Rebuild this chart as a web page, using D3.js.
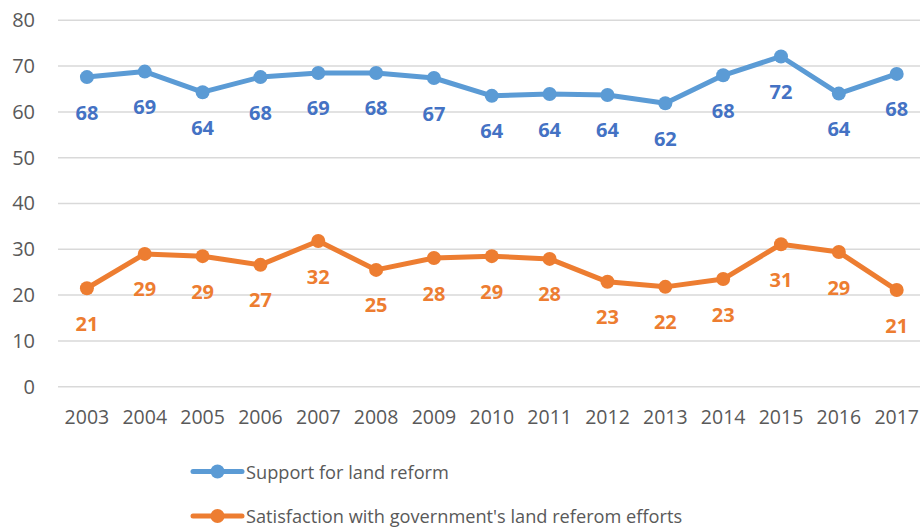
<!DOCTYPE html>
<html><head><meta charset="utf-8">
<script src="https://cdn.jsdelivr.net/npm/d3@7"></script>
<style>body{margin:0;background:#fff}svg{display:block}</style>
</head><body><svg id="c" width="920" height="528"></svg>
<script>
const years = ["2003","2004","2005","2006","2007","2008","2009","2010","2011","2012","2013","2014","2015","2016","2017"];
const support = [67.6,68.8,64.3,67.6,68.5,68.5,67.4,63.5,63.9,63.7,61.9,68.0,72.1,64.0,68.3];
const supportLabels = [68,69,64,68,69,68,67,64,64,64,62,68,72,64,68];
const satisfaction = [21.5,29.0,28.5,26.6,31.8,25.5,28.1,28.5,27.9,22.9,21.8,23.5,31.1,29.4,21.1];
const satisfactionLabels = [21,29,29,27,32,25,28,29,28,23,22,23,31,29,21];
const yTicks = [0,10,20,30,40,50,60,70,80];
const seriesNames = ["Support for land reform","Satisfaction with government's land referom efforts"];

const svg = d3.select("#c");
const font = "'Open Sans', sans-serif";
const pLeft = 58, pRight = 58 + 15*57.84, pTop = 20.3, pBottom = 386.7;
const x = d3.scaleBand().domain(years).range([pLeft, pRight]);
const y = d3.scaleLinear().domain([0,80]).range([pBottom, pTop]);

// grid
svg.append("g").selectAll("line").data(yTicks).join("line")
  .attr("x1", pLeft).attr("x2", pRight)
  .attr("y1", d=>y(d)).attr("y2", d=>y(d))
  .attr("stroke", "#D9D9D9").attr("stroke-width", 1.5);

// y axis labels
const yAxis = d3.axisLeft(y).tickValues(yTicks).tickSize(0).tickPadding(0);
const ya = svg.append("g").attr("transform", `translate(35,0)`).call(yAxis);
ya.select(".domain").remove();
ya.selectAll("text").attr("font-family", font).attr("font-size", 20).attr("fill", "#595959");

// x axis labels
const xAxis = d3.axisBottom(x).tickSize(0).tickPadding(0);
const xa = svg.append("g").attr("transform", `translate(0,${pBottom+23})`).call(xAxis);
xa.select(".domain").remove();
xa.selectAll("text").attr("font-family", font).attr("font-size", 19.5).attr("fill", "#595959");

const cx = d => x(d) + x.bandwidth()/2;
const series = [
  {vals: support, labels: supportLabels, color: "#5B9BD5", lc: "#4472C4"},
  {vals: satisfaction, labels: satisfactionLabels, color: "#ED7D31", lc: "#ED7D31"}
];
series.forEach(s => {
  const line = d3.line().x((d,i)=>cx(years[i])).y(d=>y(d));
  svg.append("path").datum(s.vals).attr("d", line).attr("fill","none")
    .attr("stroke", s.color).attr("stroke-width", 5).attr("stroke-linejoin","round");
  svg.append("g").selectAll("circle").data(s.vals).join("circle")
    .attr("cx", (d,i)=>cx(years[i])).attr("cy", d=>y(d)).attr("r", 7).attr("fill", s.color);
  svg.append("g").selectAll("text").data(s.vals).join("text")
    .attr("x", (d,i)=>cx(years[i])).attr("y", d=>y(d)+35)
    .attr("text-anchor","middle").attr("dominant-baseline","central")
    .attr("font-family", font).attr("font-weight","bold").attr("font-size", 20)
    .attr("fill", s.lc).text((d,i)=>s.labels[i]);
});

// legend
const legY = [471.5, 516];
series.forEach((s,i) => {
  const g = svg.append("g").attr("transform", `translate(0,${legY[i]})`);
  g.append("line").attr("x1",193).attr("x2",242).attr("stroke",s.color).attr("stroke-width",5).attr("stroke-linecap","round");
  g.append("circle").attr("cx",217.5).attr("r",7).attr("fill",s.color);
  g.append("text").attr("x",246).attr("dominant-baseline","central")
    .attr("font-family",font).attr("font-size",18.2).attr("fill","#595959").text(seriesNames[i]);
});
</script></body></html>
